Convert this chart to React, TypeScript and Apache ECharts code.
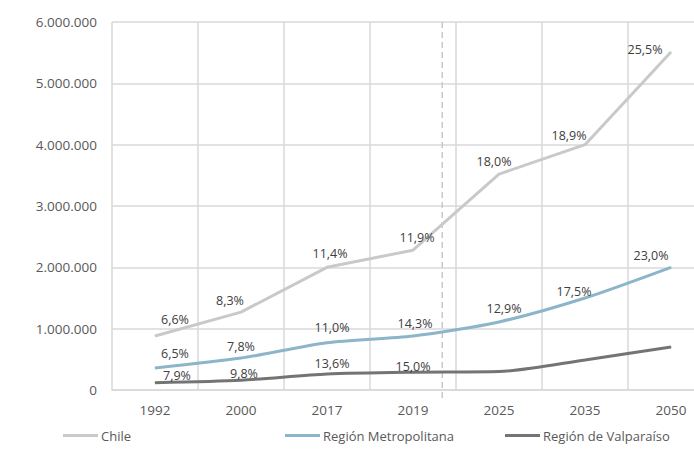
import React, { useEffect, useRef } from "react";
import * as echarts from "echarts";

const years = ["1992", "2000", "2017", "2019", "2025", "2035", "2050"];
const chile = [880000, 1270000, 2000000, 2280000, 3520000, 4000000, 5510000];
const metro = [360000, 520000, 770000, 880000, 1110000, 1500000, 2000000];
const valpo = [120000, 160000, 260000, 290000, 300000, 490000, 700000];
const chileLabels = ["6,6%", "8,3%", "11,4%", "11,9%", "18,0%", "18,9%", "25,5%"];
const metroLabels = ["6,5%", "7,8%", "11,0%", "14,3%", "12,9%", "17,5%", "23,0%"];
const valpoLabels = ["7,9%", "9,8%", "13,6%", "15,0%", "", "", ""];
const seriesNames = ["Chile", "Región Metropolitana", "Región de Valparaíso"];
const yTicks = { min: 0, max: 6000000, interval: 1000000 };

// label offsets (style only)
const chileOff = [[20, -5], [-11, 0], [3, -2], [4, -1], [-5, -1], [-16, 3], [-26, 9]];
const metroOff = [[20, -2], [0, 0], [5, -3], [2, -1], [5, -1], [-11, 5], [-20, 0]];
const valpoOff = [[22, 5], [3, 5], [5, 1], [0, 6], [0, 0], [0, 0], [0, 0]];

const FONT = "'Open Sans', 'Noto Sans', sans-serif";

function mk(name: string, vals: number[], labels: string[], offs: number[][], color: string, smooth: number | boolean) {
  return {
    name,
    type: "line",
    smooth,
    symbol: "circle",
    symbolSize: 1,
    showSymbol: true,
    lineStyle: { color, width: 3 },
    itemStyle: { color },
    emphasis: { disabled: true },
    label: {
      show: true,
      position: "top",
      distance: 5,
      color: "#404040",
      fontSize: 12.5,
      fontFamily: FONT,
      formatter: (p: any) => labels[p.dataIndex],
    },
    labelLayout: (p: any) => ({
      dx: offs[p.dataIndex][0],
      dy: offs[p.dataIndex][1],
      hideOverlap: false,
    }),
    data: vals,
  };
}

export default function App() {
  const ref = useRef<HTMLDivElement>(null);
  useEffect(() => {
    document.body.style.margin = "0";
    const chart = echarts.init(ref.current!, null, { renderer: "svg" });
    const legendBase = {
      top: 429,
      padding: 0,
      itemWidth: 35,
      itemHeight: 3,
      icon: "rect",
      textStyle: { color: "#595959", fontSize: 13, fontFamily: FONT, padding: [0, 0, 0, -2] },
    };
    chart.setOption({
      animation: false,
      backgroundColor: "#ffffff",
      grid: { left: 112, right: 0, top: 22, bottom: 61, containLabel: false },
      legend: [
        { ...legendBase, left: 63, data: [seriesNames[0]] },
        { ...legendBase, left: 285, data: [seriesNames[1]] },
        { ...legendBase, left: 505, data: [seriesNames[2]] },
      ],
      xAxis: {
        type: "category",
        data: years,
        boundaryGap: true,
        axisLine: { lineStyle: { color: "#d9d9d9", width: 1.5 } },
        axisTick: { show: false },
        axisLabel: { color: "#595959", fontSize: 13.5, fontFamily: FONT, margin: 13 },
        splitLine: { show: true, lineStyle: { color: "#d9d9d9", width: 1.5 } },
      },
      yAxis: {
        type: "value",
        min: yTicks.min,
        max: yTicks.max,
        interval: yTicks.interval,
        axisLine: { show: false },
        axisTick: { show: false },
        axisLabel: {
          color: "#595959",
          fontSize: 13.5,
          fontFamily: FONT,
          margin: 15,
          formatter: (v: number) => String(v).replace(/\B(?=(\d{3})+(?!\d))/g, "."),
        },
        splitLine: { lineStyle: { color: "#d9d9d9", width: 1.5 } },
      },
      series: [
        mk(seriesNames[0], chile, chileLabels, chileOff, "#c9c9c9", false),
        mk(seriesNames[1], metro, metroLabels, metroOff, "#8cb5c9", 0.25),
        mk(seriesNames[2], valpo, valpoLabels, valpoOff, "#747474", 0.25),
      ],
    });
    const x1 = chart.convertToPixel({ xAxisIndex: 0 }, "2019") as number;
    const x2 = chart.convertToPixel({ xAxisIndex: 0 }, "2025") as number;
    const yTop = chart.convertToPixel({ yAxisIndex: 0 }, yTicks.max) as number;
    const yBot = chart.convertToPixel({ yAxisIndex: 0 }, 0) as number;
    const xd = x1 + (x2 - x1) * 0.34;
    chart.setOption({
      graphic: [
        {
          type: "line",
          shape: { x1: xd, y1: yTop, x2: xd, y2: yBot + 8 },
          style: { stroke: "#c8c8c8", lineWidth: 1.5, lineDash: [6, 4] },
          z: 1,
        },
      ],
    });
    return () => chart.dispose();
  }, []);
  return (
    <div style={{ width: 694, height: 451, overflow: "hidden", position: "relative" }}>
      <div ref={ref} style={{ width: 714, height: 451 }} />
    </div>
  );
}
